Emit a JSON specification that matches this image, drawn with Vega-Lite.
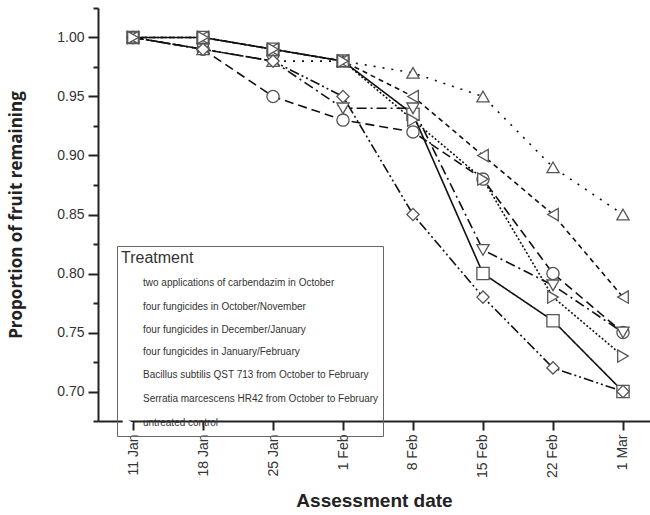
{
  "$schema": "https://vega.github.io/schema/vega-lite/v6.json",
  "autosize": {"type": "none"},
  "width": 552,
  "height": 413,
  "padding": {"left": 98, "top": 8, "right": 0, "bottom": 94},
  "background": "white",
  "config": {
    "view": {"stroke": null},
    "font": "Liberation Sans"
  },
  "data": {
    "values": [
      {"treatment": "two applications of carbendazim in October", "date": "11 Jan", "p": 1.00},
      {"treatment": "two applications of carbendazim in October", "date": "18 Jan", "p": 1.00},
      {"treatment": "two applications of carbendazim in October", "date": "25 Jan", "p": 0.99},
      {"treatment": "two applications of carbendazim in October", "date": "1 Feb", "p": 0.98},
      {"treatment": "two applications of carbendazim in October", "date": "8 Feb", "p": 0.935},
      {"treatment": "two applications of carbendazim in October", "date": "15 Feb", "p": 0.80},
      {"treatment": "two applications of carbendazim in October", "date": "22 Feb", "p": 0.76},
      {"treatment": "two applications of carbendazim in October", "date": "1 Mar", "p": 0.70},
      {"treatment": "four fungicides in October/November", "date": "11 Jan", "p": 1.00},
      {"treatment": "four fungicides in October/November", "date": "18 Jan", "p": 0.99},
      {"treatment": "four fungicides in October/November", "date": "25 Jan", "p": 0.95},
      {"treatment": "four fungicides in October/November", "date": "1 Feb", "p": 0.93},
      {"treatment": "four fungicides in October/November", "date": "8 Feb", "p": 0.92},
      {"treatment": "four fungicides in October/November", "date": "15 Feb", "p": 0.88},
      {"treatment": "four fungicides in October/November", "date": "22 Feb", "p": 0.80},
      {"treatment": "four fungicides in October/November", "date": "1 Mar", "p": 0.75},
      {"treatment": "four fungicides in December/January", "date": "11 Jan", "p": 1.00},
      {"treatment": "four fungicides in December/January", "date": "18 Jan", "p": 0.99},
      {"treatment": "four fungicides in December/January", "date": "25 Jan", "p": 0.98},
      {"treatment": "four fungicides in December/January", "date": "1 Feb", "p": 0.98},
      {"treatment": "four fungicides in December/January", "date": "8 Feb", "p": 0.97},
      {"treatment": "four fungicides in December/January", "date": "15 Feb", "p": 0.95},
      {"treatment": "four fungicides in December/January", "date": "22 Feb", "p": 0.89},
      {"treatment": "four fungicides in December/January", "date": "1 Mar", "p": 0.85},
      {"treatment": "four fungicides in January/February", "date": "11 Jan", "p": 1.00},
      {"treatment": "four fungicides in January/February", "date": "18 Jan", "p": 0.99},
      {"treatment": "four fungicides in January/February", "date": "25 Jan", "p": 0.98},
      {"treatment": "four fungicides in January/February", "date": "1 Feb", "p": 0.94},
      {"treatment": "four fungicides in January/February", "date": "8 Feb", "p": 0.94},
      {"treatment": "four fungicides in January/February", "date": "15 Feb", "p": 0.82},
      {"treatment": "four fungicides in January/February", "date": "22 Feb", "p": 0.79},
      {"treatment": "four fungicides in January/February", "date": "1 Mar", "p": 0.75},
      {"treatment": "Bacillus subtilis QST 713 from October to February", "date": "11 Jan", "p": 1.00},
      {"treatment": "Bacillus subtilis QST 713 from October to February", "date": "18 Jan", "p": 0.99},
      {"treatment": "Bacillus subtilis QST 713 from October to February", "date": "25 Jan", "p": 0.98},
      {"treatment": "Bacillus subtilis QST 713 from October to February", "date": "1 Feb", "p": 0.95},
      {"treatment": "Bacillus subtilis QST 713 from October to February", "date": "8 Feb", "p": 0.85},
      {"treatment": "Bacillus subtilis QST 713 from October to February", "date": "15 Feb", "p": 0.78},
      {"treatment": "Bacillus subtilis QST 713 from October to February", "date": "22 Feb", "p": 0.72},
      {"treatment": "Bacillus subtilis QST 713 from October to February", "date": "1 Mar", "p": 0.70},
      {"treatment": "Serratia marcescens HR42 from October to February", "date": "11 Jan", "p": 1.00},
      {"treatment": "Serratia marcescens HR42 from October to February", "date": "18 Jan", "p": 1.00},
      {"treatment": "Serratia marcescens HR42 from October to February", "date": "25 Jan", "p": 0.99},
      {"treatment": "Serratia marcescens HR42 from October to February", "date": "1 Feb", "p": 0.98},
      {"treatment": "Serratia marcescens HR42 from October to February", "date": "8 Feb", "p": 0.95},
      {"treatment": "Serratia marcescens HR42 from October to February", "date": "15 Feb", "p": 0.90},
      {"treatment": "Serratia marcescens HR42 from October to February", "date": "22 Feb", "p": 0.85},
      {"treatment": "Serratia marcescens HR42 from October to February", "date": "1 Mar", "p": 0.78},
      {"treatment": "untreated control", "date": "11 Jan", "p": 1.00},
      {"treatment": "untreated control", "date": "18 Jan", "p": 1.00},
      {"treatment": "untreated control", "date": "25 Jan", "p": 0.99},
      {"treatment": "untreated control", "date": "1 Feb", "p": 0.98},
      {"treatment": "untreated control", "date": "8 Feb", "p": 0.93},
      {"treatment": "untreated control", "date": "15 Feb", "p": 0.88},
      {"treatment": "untreated control", "date": "22 Feb", "p": 0.78},
      {"treatment": "untreated control", "date": "1 Mar", "p": 0.73}
    ]
  },
  "encoding": {
    "x": {
      "field": "date", "type": "ordinal", "sort": null,
      "scale": {"type": "point", "padding": 0.443, "align": 0.5645},
      "axis": {
        "title": "Assessment date", "titleFont": "Liberation Sans", "titleFontSize": 19, "titleFontWeight": "bold", "titleColor": "#222", "titlePadding": 14,
        "labelAngle": -90, "labelFontSize": 14, "labelColor": "#333", "labelPadding": 4,
        "tickSize": 9, "tickWidth": 2, "tickColor": "#222", "domainColor": "#222", "domainWidth": 2, "grid": false
      }
    },
    "y": {
      "field": "p", "type": "quantitative",
      "scale": {"domain": [0.675, 1.025], "nice": false, "zero": false},
      "axis": {
        "title": "Proportion of fruit remaining", "titleFont": "Open Sans", "titleFontSize": 17, "titleFontWeight": "bold", "titleColor": "#222", "titlePadding": 31,
        "values": [0.675, 0.7, 0.725, 0.75, 0.775, 0.8, 0.825, 0.85, 0.875, 0.9, 0.925, 0.95, 0.975, 1.0, 1.025],
        "labelExpr": "round(datum.value * 1000) % 50 == 0 ? format(datum.value, '.2f') : ''",
        "labelFontSize": 14, "labelColor": "#333", "labelPadding": 4,
        "tickSize": {"condition": {"test": "round(datum.value * 1000) % 50 == 0", "value": 10}, "value": 5},
        "tickWidth": 2, "tickColor": "#222", "domainColor": "#222", "domainWidth": 2, "grid": false
      }
    }
  },
  "layer": [
    {
      "mark": {"type": "line", "color": "#111", "strokeWidth": 1.6},
      "encoding": {
        "detail": {"field": "treatment"},
        "strokeDash": {
          "field": "treatment", "type": "nominal",
          "sort": ["two applications of carbendazim in October", "four fungicides in October/November", "four fungicides in December/January", "four fungicides in January/February", "Bacillus subtilis QST 713 from October to February", "Serratia marcescens HR42 from October to February", "untreated control"],
          "scale": {
            "range": [[1, 0], [9, 5], [2, 7], [10, 4, 2, 4], [10, 3, 2, 3, 2, 3], [5, 4], [2, 2]]
          },
          "legend": null
        }
      }
    },
    {
      "mark": {"type": "point", "filled": false, "fill": "white", "fillOpacity": 1, "stroke": "#555", "strokeWidth": 1.3, "size": 150, "opacity": 1},
      "encoding": {
        "shape": {
          "field": "treatment", "type": "nominal",
          "scale": {
            "domain": ["two applications of carbendazim in October", "four fungicides in October/November", "four fungicides in December/January", "four fungicides in January/February", "Bacillus subtilis QST 713 from October to February", "Serratia marcescens HR42 from October to February", "untreated control"],
            "range": ["square", "circle", "triangle-up", "triangle-down", "diamond", "triangle-left", "triangle-right"]
          },
          "legend": {
            "title": "Treatment", "orient": "none", "legendX": 19, "legendY": 238,
            "titleFontSize": 16, "titleFontWeight": "normal", "titleColor": "#333", "titleFont": "Liberation Sans", "titlePadding": 10,
            "strokeColor": "#666", "padding": 4,
            "symbolSize": 150, "symbolStrokeColor": "#555", "symbolFillColor": "white", "symbolStrokeWidth": 1.3,
            "labelFontSize": 10, "labelColor": "#333", "labelOffset": 8, "labelLimit": 400,
            "rowPadding": 6
          }
        }
      }
    }
  ]
}
